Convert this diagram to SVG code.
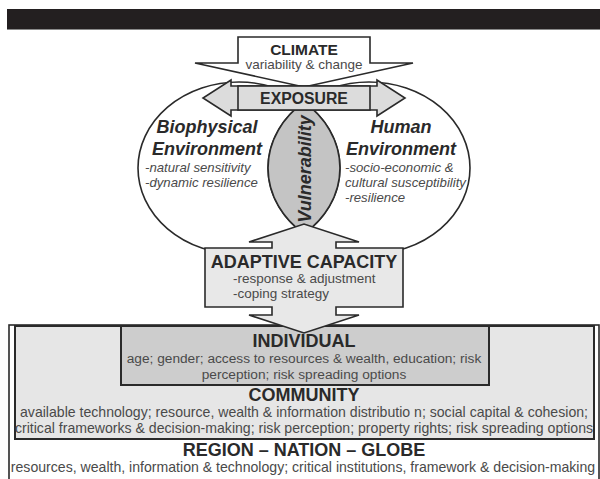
<svg xmlns="http://www.w3.org/2000/svg" width="600" height="479" viewBox="0 0 600 479">
<style>
.sh{stroke:#2a2a2a;stroke-width:1.6;stroke-linejoin:miter}
.t{font-family:"Liberation Sans",Arial,sans-serif;fill:#2a2a2a}
.b{font-weight:bold}
.s{fill:#4a4a4a}
.bi{font-weight:bold;font-style:italic}
.i{font-style:italic;fill:#4a4a4a}
</style>
<rect x="0" y="0" width="600" height="479" fill="#ffffff"/>
<g id="header">
<rect x="7" y="9" width="593" height="20" fill="#231f20"/>
<line x1="7" y1="29.5" x2="600" y2="29.5" stroke="#8a8a8a" stroke-width="1"/>
</g>
<g id="environments">
<ellipse cx="239" cy="168" rx="101" ry="86" fill="#ffffff" class="sh"/>
<ellipse cx="369" cy="168" rx="101" ry="86" fill="none" class="sh"/>
</g>
<g id="vulnerability">
<path d="M304,102.2 A101,86 0 0,1 304,233.8 A101,86 0 0,1 304,102.2 Z" fill="#c4c4c4" class="sh"/>
<text class="t bi" font-size="18" text-anchor="middle" transform="translate(310.5,169) rotate(-90)">Vulnerability</text>
</g>
<g id="biophysical">
<text class="t bi" font-size="18" x="207" y="133" text-anchor="middle">Biophysical</text>
<text class="t bi" font-size="18" x="207" y="155" text-anchor="middle">Environment</text>
<text class="t i" font-size="13.2" x="145" y="172">-natural sensitivity</text>
<text class="t i" font-size="13.2" x="145" y="187">-dynamic resilience</text>
</g>
<g id="human">
<text class="t bi" font-size="18" x="401" y="133" text-anchor="middle">Human</text>
<text class="t bi" font-size="18" x="401" y="155" text-anchor="middle">Environment</text>
<text class="t i" font-size="13.2" x="345" y="172">-socio-economic &amp;</text>
<text class="t i" font-size="13.2" x="345" y="187">cultural susceptibility</text>
<text class="t i" font-size="13.2" x="345" y="202">-resilience</text>
</g>
<g id="climate">
<path d="M238,37 H370 V63 H413 L304,87 L195,63 H238 Z" fill="#ffffff" class="sh"/>
<text class="t b" font-size="15.5" x="304" y="55" text-anchor="middle">CLIMATE</text>
<text class="t s" font-size="13.5" x="304" y="69" text-anchor="middle">variability &amp; change</text>
</g>
<g id="exposure">
<path d="M231,86 H377 V80 L405,98 L377,116 V110 H231 V116 L203,98 L231,80 Z" fill="#dcdcdc" class="sh"/>
<rect x="238" y="86" width="132" height="24" fill="#dcdcdc" class="sh"/>
<text class="t b" font-size="15.8" x="304" y="104" text-anchor="middle">EXPOSURE</text>
</g>
<g id="region">
<rect x="9" y="325" width="590" height="160" fill="#ffffff" class="sh"/>
<text class="t b" font-size="18" x="304" y="456" text-anchor="middle">REGION – NATION – GLOBE</text>
<text class="t s" font-size="14.1" x="303" y="472" text-anchor="middle">resources, wealth, information &amp; technology; critical institutions, framework &amp; decision-making</text>
</g>
<g id="community">
<rect x="15" y="326" width="579" height="113" fill="#e6e6e6" stroke="#2a2a2a" stroke-width="2"/>
<text class="t b" font-size="18" x="304" y="401" text-anchor="middle">COMMUNITY</text>
<text class="t s" font-size="14.1" x="304" y="417" text-anchor="middle">available technology; resource, wealth &amp; information distributio n; social capital &amp; cohesion;</text>
<text class="t s" font-size="14.1" x="304" y="433" text-anchor="middle">critical frameworks &amp; decision-making; risk perception; property rights; risk spreading options</text>
</g>
<g id="individual">
<rect x="121" y="326" width="368" height="59" fill="#cdcdcd" stroke="#2a2a2a" stroke-width="2"/>
<text class="t b" font-size="18" x="304" y="347" text-anchor="middle">INDIVIDUAL</text>
<text class="t s" font-size="13.7" x="304" y="363" text-anchor="middle">age; gender; access to resources &amp; wealth, education; risk</text>
<text class="t s" font-size="13.7" x="304" y="379" text-anchor="middle">perception; risk spreading options</text>
</g>
<g id="adaptive">
<path d="M205,248 H272 V242 H249 L304,224 L359,242 H336 V248 H403 V307 H336 V315 H359 L304,333 L249,315 H272 V307 H205 Z" fill="#e8e8e8" class="sh"/>
<text class="t b" font-size="18" x="304" y="268" text-anchor="middle">ADAPTIVE CAPACITY</text>
<text class="t s" font-size="13.5" x="233" y="283">-response &amp; adjustment</text>
<text class="t s" font-size="13.5" x="233" y="298">-coping strategy</text>
</g>
</svg>
